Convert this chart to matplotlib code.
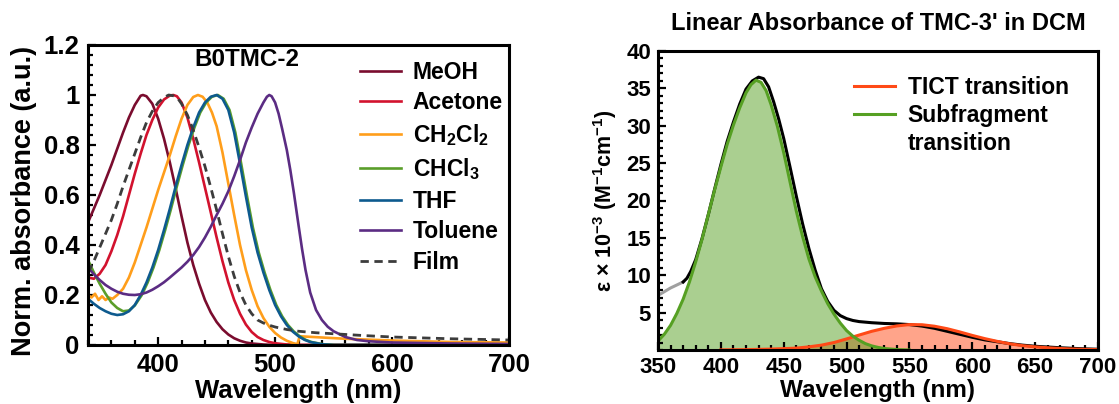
import numpy as np
import matplotlib
matplotlib.use('Agg')
import matplotlib.pyplot as plt
from matplotlib.ticker import MultipleLocator, FuncFormatter
from matplotlib.lines import Line2D

plt.rcParams['font.family'] = ['Liberation Sans', 'DejaVu Sans']
plt.rcParams['font.weight'] = 'bold'
plt.rcParams['mathtext.fontset'] = 'custom'
plt.rcParams['mathtext.rm'] = 'Liberation Sans:bold'
plt.rcParams['mathtext.it'] = 'Liberation Sans:bold'
plt.rcParams['mathtext.bf'] = 'Liberation Sans:bold'

# -----------------------------------------------------------------------
# Left panel: B0TMC-2 normalised absorbance
# -----------------------------------------------------------------------
meoh_nm = [340, 345, 350, 355, 360, 365, 370, 375, 380, 385, 387, 390, 395,
           400, 405, 410, 415, 420, 425, 430, 435, 440, 445, 450, 455, 460,
           465, 470, 475, 480, 490, 500, 700]
meoh_ab = [0.49, 0.545, 0.60, 0.66, 0.72, 0.785, 0.85, 0.91, 0.96, 0.997,
           1.00, 0.995, 0.965, 0.905, 0.825, 0.73, 0.625, 0.515, 0.41, 0.32,
           0.245, 0.18, 0.13, 0.092, 0.063, 0.042, 0.027, 0.017, 0.01, 0.006,
           0.002, 0.0, 0.0]

acet_nm = [340, 345, 350, 355, 360, 365, 370, 375, 380, 385, 390, 395, 400,
           405, 410, 413, 416, 420, 425, 430, 435, 440, 445, 450, 455, 460,
           465, 470, 475, 480, 485, 490, 495, 500, 510, 520, 700]
acet_ab = [0.27, 0.265, 0.285, 0.32, 0.375, 0.44, 0.515, 0.60, 0.685, 0.765,
           0.84, 0.90, 0.95, 0.982, 0.998, 1.00, 0.995, 0.97, 0.91, 0.825,
           0.73, 0.63, 0.53, 0.43, 0.335, 0.25, 0.18, 0.125, 0.082, 0.052,
           0.032, 0.02, 0.012, 0.007, 0.002, 0.0, 0.0]

dcm_nm = [340, 343, 346, 349, 352, 355, 358, 361, 365, 370, 375, 380, 385,
          390, 395, 400, 405, 410, 415, 420, 425, 430, 434, 438, 442, 446,
          450, 455, 460, 465, 470, 475, 480, 485, 490, 495, 500, 505, 510,
          515, 519, 521, 540, 560, 600, 650, 700]
dcm_ab = [0.20, 0.19, 0.205, 0.18, 0.195, 0.18, 0.19, 0.185, 0.20, 0.225,
          0.27, 0.33, 0.40, 0.47, 0.545, 0.62, 0.69, 0.76, 0.835, 0.905,
          0.96, 0.992, 1.00, 0.993, 0.97, 0.93, 0.875, 0.77, 0.645, 0.52,
          0.40, 0.30, 0.22, 0.155, 0.108, 0.073, 0.048, 0.03, 0.017, 0.008,
          0.003, 0.035, 0.03, 0.025, 0.018, 0.012, 0.01]

chcl3_nm = [340, 345, 350, 355, 360, 365, 370, 375, 380, 386, 391, 396, 401,
            406, 411, 416, 421, 426, 431, 436, 441, 446, 451, 456, 461, 466,
            471, 476, 481, 486, 491, 496, 501, 506, 511, 516, 521, 526, 531,
            541, 551, 700]
chcl3_ab = [0.34, 0.29, 0.245, 0.205, 0.17, 0.148, 0.135, 0.138, 0.158, 0.2,
            0.25, 0.31, 0.38, 0.46, 0.545, 0.635, 0.72, 0.80, 0.87, 0.93,
            0.97, 0.993, 1.00, 0.985, 0.94, 0.85, 0.725, 0.595, 0.47, 0.37,
            0.29, 0.22, 0.16, 0.115, 0.08, 0.054, 0.035, 0.021, 0.012, 0.003,
            0.0, 0.0]

thf_nm = [340, 345, 350, 355, 360, 365, 370, 375, 380, 385, 390, 395, 400,
          405, 410, 415, 420, 425, 430, 435, 440, 445, 450, 455, 460, 465,
          470, 475, 480, 485, 490, 495, 500, 505, 510, 515, 520, 525, 530,
          540, 550, 700]
thf_ab = [0.185, 0.165, 0.148, 0.135, 0.125, 0.12, 0.123, 0.135, 0.16, 0.2,
          0.25, 0.31, 0.38, 0.46, 0.545, 0.635, 0.72, 0.80, 0.87, 0.93, 0.97,
          0.993, 1.00, 0.985, 0.94, 0.85, 0.725, 0.595, 0.47, 0.37, 0.29,
          0.22, 0.16, 0.115, 0.08, 0.054, 0.035, 0.021, 0.012, 0.003, 0.0,
          0.0]

tol_nm = [340, 345, 350, 355, 360, 365, 370, 375, 380, 385, 390, 395, 400,
          405, 410, 415, 420, 425, 430, 435, 440, 445, 450, 455, 460, 465,
          470, 475, 480, 485, 490, 493, 495, 497, 500, 503, 506, 510, 513,
          516, 520, 523, 526, 530, 535, 540, 545, 550, 560, 570, 580, 600,
          650, 700]
tol_ab = [0.31, 0.283, 0.26, 0.24, 0.225, 0.213, 0.205, 0.201, 0.20, 0.203,
          0.21, 0.221, 0.235, 0.251, 0.27, 0.29, 0.31, 0.333, 0.36, 0.392,
          0.43, 0.473, 0.52, 0.565, 0.615, 0.675, 0.74, 0.81, 0.87, 0.925,
          0.97, 0.993, 1.00, 0.995, 0.97, 0.925, 0.865, 0.78, 0.70, 0.61,
          0.48, 0.385, 0.30, 0.21, 0.14, 0.10, 0.073, 0.055, 0.032, 0.02,
          0.015, 0.01, 0.006, 0.004]

film_nm = [340, 345, 350, 355, 360, 365, 370, 375, 380, 385, 390, 395, 400,
           405, 409, 413, 417, 420, 425, 430, 435, 440, 445, 450, 455, 460,
           465, 470, 475, 480, 485, 490, 495, 500, 510, 520, 535, 550, 575,
           600, 650, 700]
film_ab = [0.29, 0.335, 0.39, 0.445, 0.50, 0.565, 0.635, 0.70, 0.765, 0.83,
           0.89, 0.935, 0.97, 0.99, 1.00, 0.997, 0.985, 0.965, 0.92, 0.86,
           0.79, 0.715, 0.63, 0.54, 0.445, 0.355, 0.275, 0.21, 0.16, 0.125,
           0.10, 0.088, 0.079, 0.072, 0.062, 0.055, 0.049, 0.045, 0.038,
           0.032, 0.025, 0.02]

solvents = ['MeOH', 'Acetone', r'CH$_2$Cl$_2$', r'CHCl$_3$', 'THF', 'Toluene']
solvent_colors = ['#7a0c2e', '#d2122e', '#ff9e1b', '#5a9e2a', '#0d5a8e',
                  '#5b2c83']

# -----------------------------------------------------------------------
# Right panel: TMC-3' in DCM, epsilon x 1e-3
# -----------------------------------------------------------------------
edge_nm = [350, 355, 360, 365, 370]
edge_eps = [7.3, 7.8, 8.3, 8.7, 9.1]

total_nm = [370, 373, 376, 380, 385, 390, 395, 400, 405, 410, 415, 420, 425,
            430, 434, 438, 442, 446, 450, 455, 460, 465, 470, 475, 480, 485,
            490, 495, 500, 505, 510, 520, 530, 540, 550, 560, 570, 580, 590,
            600, 610, 620, 630, 640, 650, 660, 670, 680, 690, 700]
total_eps = [9.1, 9.6, 10.5, 12.1, 14.9, 18.1, 21.5, 24.8, 27.9, 30.5, 32.9,
             34.9, 36.0, 36.5, 36.3, 35.2, 33.2, 30.9, 28.3, 24.5, 20.6, 16.9,
             13.6, 10.7, 8.2, 6.5, 5.3, 4.6, 4.2, 3.95, 3.8, 3.65, 3.55, 3.5,
             3.4, 3.2, 2.9, 2.5, 2.1, 1.7, 1.35, 1.1, 0.85, 0.65, 0.5, 0.4,
             0.3, 0.22, 0.15, 0.1]

sub_nm = [350, 355, 360, 365, 370, 375, 380, 385, 390, 395, 400, 405, 410,
          415, 420, 424, 428, 432, 436, 440, 445, 450, 455, 460, 465, 470,
          475, 480, 485, 490, 495, 500, 505, 510, 515, 520, 525, 530, 540,
          550]
sub_eps = [1.2, 2.1, 3.3, 4.9, 6.8, 9.1, 11.8, 14.8, 18.1, 21.4, 24.5, 27.5,
           30.1, 32.4, 34.4, 35.5, 36.1, 35.8, 34.7, 32.8, 29.9, 26.4, 22.5,
           18.6, 15.2, 12.2, 9.8, 7.9, 6.2, 4.8, 3.6, 2.6, 1.85, 1.3, 0.85,
           0.55, 0.35, 0.2, 0.06, 0.0]

tict_nm = [400, 420, 440, 460, 470, 480, 490, 500, 510, 520, 530, 540, 550,
           560, 570, 580, 590, 600, 610, 620, 630, 640, 650, 660, 670, 680,
           690, 700]
tict_eps = [0.02, 0.05, 0.12, 0.25, 0.42, 0.65, 1.0, 1.48, 2.0, 2.5, 2.9,
            3.22, 3.4, 3.38, 3.18, 2.85, 2.42, 1.95, 1.52, 1.15, 0.82, 0.58,
            0.42, 0.3, 0.2, 0.13, 0.08, 0.05]

TICT_COLOR = '#ff4a17'
SUB_COLOR = '#56a023'


def style_axes(ax, tick_size, pad):
    for s in ax.spines.values():
        s.set_linewidth(2.2)
    ax.tick_params(which='both', direction='in', top=False, right=False,
                   width=1.6, labelsize=tick_size, pad=pad)
    ax.tick_params(which='major', length=6)
    ax.tick_params(which='minor', length=3.8)


fig = plt.figure(figsize=(11.19, 4.04), dpi=100)

# ---- left panel ----
ax1 = fig.add_axes([88 / 1119, 1 - 345 / 404, 421 / 1119, 300 / 404])
curves = [(meoh_nm, meoh_ab), (acet_nm, acet_ab), (dcm_nm, dcm_ab),
          (chcl3_nm, chcl3_ab), (thf_nm, thf_ab), (tol_nm, tol_ab)]
for (x, y), lab, col in zip(curves, solvents, solvent_colors):
    ax1.plot(x, y, color=col, lw=1.9, label=lab)
ax1.plot(film_nm, film_ab, color='#3c3c3c', lw=2.0, ls=(0, (3, 2)),
         label='Film')

ax1.set_xlim(340, 700)
ax1.set_ylim(0, 1.2)
ax1.xaxis.set_major_locator(MultipleLocator(100))
ax1.xaxis.set_minor_locator(MultipleLocator(20))
ax1.yaxis.set_major_locator(MultipleLocator(0.2))
ax1.yaxis.set_minor_locator(MultipleLocator(0.04))
ax1.yaxis.set_major_formatter(FuncFormatter(lambda v, p: f'{v:g}'))
style_axes(ax1, 18.5, 6)
ax1.set_xlabel('Wavelength (nm)', fontsize=18.5, fontweight='bold')
ax1.set_ylabel('Norm. absorbance (a.u.)', fontsize=19.5, fontweight='bold')
ax1.xaxis.set_label_coords(0.5, -0.112)
ax1.yaxis.set_label_coords(-0.12, 0.48)
ax1.text(0.378, 0.95, 'B0TMC-2', transform=ax1.transAxes, ha='center',
         va='center', fontsize=17.5, fontweight='bold')
ax1.legend(loc='upper left', bbox_to_anchor=(0.646, 0.948), frameon=False,
           fontsize=16.5, handlelength=1.8, handletextpad=0.5,
           labelspacing=0.34, borderpad=0, borderaxespad=0)

# ---- right panel ----
ax2 = fig.add_axes([658 / 1119, 1 - 350 / 404, 440 / 1119, 299 / 404])
ax2.plot(edge_nm, edge_eps, color='#a0a0a0', lw=2.2)
ax2.plot(total_nm, total_eps, color='black', lw=2.2)
ax2.fill_between(tict_nm, tict_eps, color=TICT_COLOR, alpha=0.5, lw=0)
l_tict, = ax2.plot(tict_nm, tict_eps, color=TICT_COLOR, lw=2.2)
ax2.fill_between(sub_nm, sub_eps, color=SUB_COLOR, alpha=0.5, lw=0)
l_sub, = ax2.plot(sub_nm, sub_eps, color=SUB_COLOR, lw=2.2)

ax2.set_xlim(350, 700)
ax2.set_ylim(0, 40)
ax2.set_yticks(np.arange(5, 41, 5))
ax2.xaxis.set_major_locator(MultipleLocator(50))
ax2.xaxis.set_minor_locator(MultipleLocator(10))
ax2.yaxis.set_minor_locator(MultipleLocator(1))
style_axes(ax2, 16, 5)
ax2.set_xlabel('Wavelength (nm)', fontsize=17.5, fontweight='bold')
ax2.set_ylabel(r'ε × 10$^{-3}$ (M$^{-1}$cm$^{-1}$)', fontsize=15.5,
               fontweight='bold')
ax2.xaxis.set_label_coords(0.5, -0.098)
ax2.yaxis.set_label_coords(-0.088, 0.5)
ax2.set_title("Linear Absorbance of TMC-3' in DCM", fontsize=17,
              fontweight='bold', pad=15)
blank = Line2D([], [], color='none')
ax2.legend([l_tict, l_sub, blank],
           ['TICT transition', 'Subfragment', 'transition'],
           loc='upper left', bbox_to_anchor=(0.445, 0.915), frameon=False,
           fontsize=16.5, handlelength=1.8, handletextpad=0.55,
           labelspacing=0.22, borderpad=0, borderaxespad=0)

fig.savefig('out.png', dpi=100)
